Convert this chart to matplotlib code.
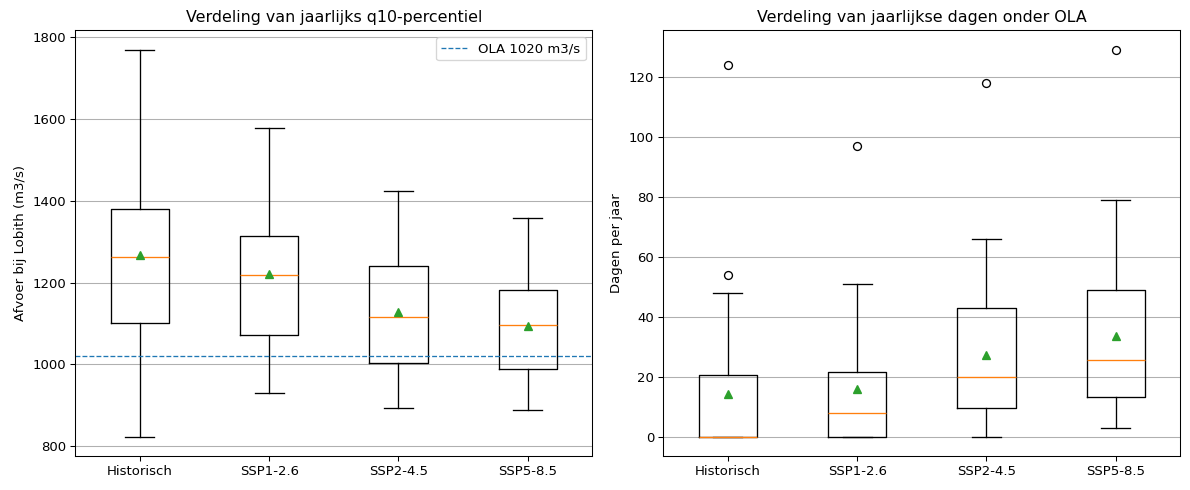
import matplotlib
matplotlib.use("Agg")
import matplotlib.pyplot as plt

categories = ["Historisch", "SSP1-2.6", "SSP2-4.5", "SSP5-8.5"]

# Left panel: q10-percentile (m3/s)
q10_whislo = [824, 931, 893, 890]
q10_q1 = [1102, 1072, 1003, 988]
q10_med = [1263, 1219, 1117, 1097]
q10_q3 = [1380, 1314, 1240, 1181]
q10_whishi = [1768, 1578, 1424, 1358]
q10_mean = [1266, 1221, 1128, 1095]
ola = 1020

# Right panel: days below OLA per year
d_whislo = [0, 0, 0, 3]
d_q1 = [0, 0, 9.4, 13.3]
d_med = [0, 8, 20, 25.7]
d_q3 = [20.5, 21.7, 43, 49]
d_whishi = [48, 51, 66, 79]
d_mean = [14.1, 16, 27.2, 33.5]
d_fliers = [[54, 124], [97], [118], [129]]


def make_stats(lo, q1, med, q3, hi, mean, fliers=None):
    stats = []
    for i, lab in enumerate(categories):
        stats.append(dict(label=lab, whislo=lo[i], q1=q1[i], med=med[i], q3=q3[i],
                          whishi=hi[i], mean=mean[i],
                          fliers=(fliers[i] if fliers else [])))
    return stats


DPI = 95
W, H = 1190, 490
fig, (ax1, ax2) = plt.subplots(1, 2, figsize=(W / DPI, H / DPI), dpi=DPI)
fig.subplots_adjust(left=75.3 / W, right=1180.3 / W, top=1 - 30.3 / H,
                    bottom=1 - 456 / H, wspace=71 / 517)

ax1.bxp(make_stats(q10_whislo, q10_q1, q10_med, q10_q3, q10_whishi, q10_mean),
        showmeans=True, widths=0.45)
ax1.axhline(ola, color="C0", linestyle="--", linewidth=1, label=f"OLA {ola} m3/s")
ax1.set_title("Verdeling van jaarlijks q10-percentiel")
ax1.set_ylabel("Afvoer bij Lobith (m3/s)")
ax1.grid(axis="y")
ax1.legend(loc="upper right")

ax2.bxp(make_stats(d_whislo, d_q1, d_med, d_q3, d_whishi, d_mean, d_fliers),
        showmeans=True, widths=0.45)
ax2.set_title("Verdeling van jaarlijkse dagen onder OLA")
ax2.set_ylabel("Dagen per jaar")
ax2.grid(axis="y")

fig.savefig("out.png", dpi=DPI)
